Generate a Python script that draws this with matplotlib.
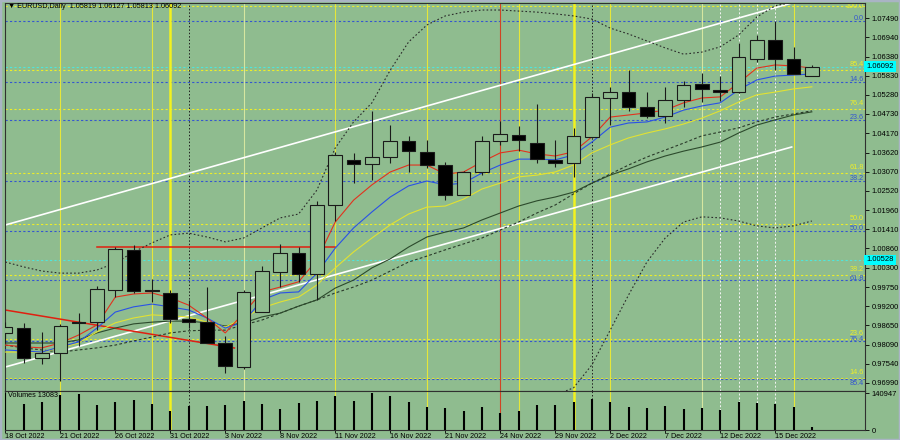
import numpy as np
import matplotlib.pyplot as plt
from matplotlib.patches import Rectangle
from matplotlib.transforms import blended_transform_factory

plt.rcParams['font.family'] = ['Liberation Sans', 'DejaVu Sans']

BG = '#8FBC8F'

# daily bars 18 Oct 2022 .. 19 Dec 2022 (last one still forming)
tick_labels = ['18 Oct 2022', '21 Oct 2022', '26 Oct 2022', '31 Oct 2022', '3 Nov 2022',
               '8 Nov 2022', '11 Nov 2022', '16 Nov 2022', '21 Nov 2022', '24 Nov 2022',
               '29 Nov 2022', '2 Dec 2022', '7 Dec 2022', '12 Dec 2022', '15 Dec 2022']

opens = [0.98428, 0.98571, 0.97708, 0.97844, 0.98744, 0.98735, 0.99665, 1.00816, 0.99660, 0.99587,
         0.98822, 0.98753, 0.98149, 0.97458, 0.99032, 1.00191, 1.00738, 1.00125, 1.02102, 1.03405,
         1.03281, 1.03500, 1.03960, 1.03649, 1.03252, 1.02412, 1.03051, 1.03966, 1.04130, 1.03885,
         1.03411, 1.03310, 1.04075, 1.05197, 1.05353, 1.04921, 1.04679, 1.05131, 1.05583, 1.05419,
         1.05353, 1.06311, 1.06857, 1.06302, 1.05819]
highs = [0.98744, 0.98715, 0.98456, 0.98687, 0.99003, 0.99780, 1.00910, 1.00959, 0.99973, 0.99665,
         0.99377, 0.99760, 0.98341, 0.99665, 1.00355, 1.00979, 1.00910, 1.02226, 1.03644, 1.03598,
         1.04823, 1.04412, 1.04095, 1.03980, 1.03356, 1.03097, 1.04095, 1.04527, 1.04383, 1.05007,
         1.03980, 1.04317, 1.05324, 1.05496, 1.05994, 1.05370, 1.05514, 1.05678, 1.05916, 1.05822,
         1.06762, 1.07001, 1.07413, 1.06664, 1.06127]
lows = [0.98140, 0.97564, 0.97536, 0.97047, 0.98054, 0.98514, 0.99455, 0.99570, 0.99328, 0.98724,
        0.98571, 0.98131, 0.97268, 0.97383, 0.99018, 0.99742, 0.99904, 0.99377, 1.01658, 1.02735,
        1.02829, 1.03327, 1.03068, 1.03166, 1.02254, 1.02398, 1.02973, 1.03836, 1.03664, 1.03318,
        1.03218, 1.02924, 1.04067, 1.04412, 1.04823, 1.04622, 1.04461, 1.04938, 1.05082, 1.05102,
        1.05344, 1.06233, 1.05994, 1.05865, 1.05813]
closes = [0.98600, 0.97708, 0.97844, 0.98620, 0.98715, 0.99685, 1.00836, 0.99636, 0.99640, 0.98830,
          0.98753, 0.98149, 0.97478, 0.99599, 1.00203, 1.00738, 1.00125, 1.02102, 1.03549, 1.03281,
          1.03483, 1.03960, 1.03664, 1.03261, 1.02412, 1.03051, 1.03966, 1.04144, 1.03980, 1.03425,
          1.03318, 1.04095, 1.05209, 1.05353, 1.04921, 1.04679, 1.05131, 1.05563, 1.05448, 1.05370,
          1.06360, 1.06857, 1.06311, 1.05879, 1.06092]
volumes = [140900, 100600, 105700, 133100, 137000, 94000, 105700, 113500, 100600, 71600,
           91200, 91200, 94000, 109600, 100600, 81000, 103000, 109600, 128000, 110800,
           140947, 128000, 106900, 87300, 85000, 74400, 86100, 66600, 74400, 96700,
           94000, 105700, 118600, 105700, 86100, 83400, 90000, 78300, 82200, 77100,
           106900, 103000, 100600, 86100, 13083]

# indicator lines
ma_red = [0.9808, 0.9803, 0.9800, 0.9814, 0.9837, 0.9866, 0.9946, 0.9955, 0.9958, 0.9944,
          0.9923, 0.9886, 0.9843, 0.9900, 0.9961, 0.9975, 0.9990, 1.0053, 1.0162, 1.0225,
          1.0269, 1.0306, 1.0326, 1.0326, 1.0300, 1.0306, 1.0335, 1.0361, 1.0369, 1.0358,
          1.0352, 1.0364, 1.0407, 1.0464, 1.0470, 1.0476, 1.0484, 1.0505, 1.0519, 1.0522,
          1.0562, 1.0605, 1.0614, 1.0611, 1.0605]
ma_blue = [0.9794, 0.9791, 0.9788, 0.9803, 0.9817, 0.9857, 0.9903, 0.9918, 0.9926, 0.9918,
           0.9909, 0.9886, 0.9857, 0.9874, 0.9938, 0.9958, 0.9961, 1.0015, 1.0087, 1.0145,
           1.0191, 1.0234, 1.0266, 1.0280, 1.0269, 1.0274, 1.0303, 1.0326, 1.0343, 1.0343,
           1.0341, 1.0355, 1.0392, 1.0435, 1.0447, 1.0450, 1.0464, 1.0484, 1.0496, 1.0505,
           1.0542, 1.0571, 1.0582, 1.0585, 1.0588]
ma_yellow = [0.9788, 0.9788, 0.9788, 0.9800, 0.9814, 0.9846, 0.9872, 0.9886, 0.9895, 0.9892,
             0.9889, 0.9874, 0.9860, 0.9886, 0.9915, 0.9932, 0.9946, 0.9981, 1.0030, 1.0076,
             1.0116, 1.0154, 1.0185, 1.0205, 1.0208, 1.0228, 1.0257, 1.0274, 1.0292, 1.0297,
             1.0306, 1.0326, 1.0361, 1.0384, 1.0404, 1.0418, 1.0430, 1.0444, 1.0461, 1.0482,
             1.0507, 1.0528, 1.0536, 1.0545, 1.0551]
ma_slow = [0.9814, 0.9814, 0.9814, 0.9814, 0.9823, 0.9843, 0.9857, 0.9869, 0.9874, 0.9877,
           0.9877, 0.9872, 0.9863, 0.9872, 0.9889, 0.9900, 0.9920, 0.9938, 0.9972, 0.9995,
           1.0030, 1.0056, 1.0090, 1.0119, 1.0133, 1.0145, 1.0168, 1.0188, 1.0208, 1.0223,
           1.0234, 1.0248, 1.0274, 1.0297, 1.0315, 1.0335, 1.0352, 1.0366, 1.0378, 1.0392,
           1.0418, 1.0441, 1.0456, 1.0470, 1.0479]
bb_mid = [0.9808, 0.9800, 0.9794, 0.9788, 0.9794, 0.9800, 0.9808, 0.9820, 0.9831, 0.9843,
          0.9849, 0.9851, 0.9851, 0.9866, 0.9880, 0.9900, 0.9920, 0.9938, 0.9958, 0.9975,
          0.9995, 1.0021, 1.0047, 1.0064, 1.0082, 1.0099, 1.0116, 1.0139, 1.0162, 1.0188,
          1.0211, 1.0243, 1.0274, 1.0300, 1.0326, 1.0349, 1.0369, 1.0389, 1.0410, 1.0421,
          1.0433, 1.0450, 1.0464, 1.0473, 1.0482]
bb_up = [1.0047, 1.0033, 1.0021, 1.0015, 1.0015, 1.0024, 1.0044, 1.0076, 1.0102, 1.0125,
         1.0130, 1.0119, 1.0105, 1.0116, 1.0145, 1.0174, 1.0185, 1.0254, 1.0375, 1.0450,
         1.0505, 1.0599, 1.0680, 1.0729, 1.0755, 1.0766, 1.0772, 1.0772, 1.0769, 1.0766,
         1.0761, 1.0755, 1.0746, 1.0720, 1.0703, 1.0683, 1.0663, 1.0645, 1.0651, 1.0666,
         1.0700, 1.0752, 1.0784, 1.0795, 1.0801]
bb_low = [np.nan] * 30 + [0.9664, 0.9685, 0.9751, 0.9851, 0.9952, 1.0047, 1.0116, 1.0162,
                          1.0177, 1.0174, 1.0165, 1.0151, 1.0145, 1.0151, 1.0165]

price_ticks = [1.07490, 1.06940, 1.06380, 1.05830, 1.05280, 1.04730, 1.04170, 1.03620, 1.03070,
               1.02520, 1.01960, 1.01410, 1.00860, 1.00300, 0.99750, 0.99200, 0.98650, 0.98090,
               0.97540, 0.96990]

fib_ratios = [0.0, 14.6, 23.6, 38.2, 50.0, 61.8, 76.4, 85.4, 100.0]
fib_yellow = (0.95292, 1.07835)   # price at 0 and at 100
fib_blue = (1.07418, 0.95335)

cyan_levels = [1.06092, 1.00528]
cyan_labels = ['1.06092', '1.00528']

# trend lines: (bar start, bar end), (price start, price end)
white_up = ((0, 43), (1.01535, 1.07936))
white_low = ((0, 42.9), (0.97449, 1.03779))
red_diag = ((0, 12.5), (0.99089, 0.97996))
red_flat = ((5, 18), (1.00902, 1.00902))

vline_bars = [3, 8, 9, 10, 13, 18, 23, 27, 28, 31, 32, 33, 38, 39, 40, 41, 42, 43]
vline_kind = ['y', 'y', 'Y', 'k', 'p', 'y', 'y', 'r', 'y', 'Y', 'k', 'y', 'p', 'w', 'w', 'w', 'w', 'y']

vstyle = {
    'y': dict(color='#E6E63A', lw=0.8, ls='-'),
    'Y': dict(color='#F2F21E', lw=1.8, ls='-'),
    'p': dict(color='#D6E6A0', lw=0.8, ls='-'),
    'k': dict(color='#202020', lw=0.7, ls=(0, (1.5, 2))),
    'r': dict(color='#D04424', lw=0.8, ls='-'),
    'w': dict(color='#F4F4F4', lw=0.7, ls=(0, (2, 2))),
}

n = len(closes)
idx = np.arange(n)
o = np.array(opens)
c = np.array(closes)

fig = plt.figure(figsize=(9, 4.4), dpi=100, facecolor=BG)
ax = fig.add_axes([5 / 900, 49 / 440, 860 / 900, 388 / 440], facecolor=BG)
axv = fig.add_axes([5 / 900, 10 / 440, 860 / 900, 39 / 440], facecolor=BG)

x_lo, x_hi = -0.016, 46.9
ax.set_xlim(x_lo, x_hi)
axv.set_xlim(x_lo, x_hi)
ax.set_ylim(0.96759, 1.07922)
axv.set_ylim(0, 148800)
y_lo, y_hi = ax.get_ylim()
px = (y_hi - y_lo) / 388   # price per pixel

# fibonacci levels
dots = (0, (2, 2))
YEL, BLU = '#EEEE28', '#3456D0'
yel_prices = [fib_yellow[0] + (fib_yellow[1] - fib_yellow[0]) * r / 100 for r in fib_ratios]
blu_prices = [fib_blue[0] + (fib_blue[1] - fib_blue[0]) * r / 100 for r in fib_ratios]
for r, py in zip(fib_ratios, yel_prices):
    if y_lo < py < y_hi:
        ax.axhline(py, color=YEL, lw=0.8, ls=dots, zorder=1)
        ty = min(py + 2 * px, y_hi - 6.5 * px)
        ax.text(x_hi - 0.08, ty, f'{r:.1f}', color=YEL, fontsize=5.2,
                ha='right', va='bottom', zorder=2)
for r, pb in zip(fib_ratios, blu_prices):
    if y_lo < pb < y_hi:
        ax.axhline(pb, color=BLU, lw=0.8, ls=dots, zorder=1)
        crowded = min(abs(pb - py) for py in yel_prices) < 2 * px
        if crowded:
            ax.text(x_hi - 0.08, pb - 1 * px, f'{r:.1f}', color=BLU, fontsize=5.2,
                    ha='right', va='top', zorder=2)
        else:
            ax.text(x_hi - 0.08, pb - 1.5 * px, f'{r:.1f}', color=BLU, fontsize=5.2,
                    ha='right', va='bottom', zorder=2)

for lv in cyan_levels:
    ax.axhline(lv, color='#4FE6DC', lw=0.8, ls=dots, zorder=1)

# vertical lines
for b, k in zip(vline_bars, vline_kind):
    ax.axvline(b, zorder=1.5, **vstyle[k])
    axv.axvline(b, zorder=1.5, **vstyle[k])

# trend lines
ax.plot(*white_up, color='white', lw=1.2, zorder=2)
ax.plot(*white_low, color='white', lw=1.2, zorder=2)
ax.plot(*red_diag, color='#E02010', lw=1.1, zorder=2)
ax.plot(*red_flat, color='#E02010', lw=1.1, zorder=2)

# indicators
ax.plot(idx, bb_up, color='#2A2A2A', lw=0.8, ls=(0, (1.5, 2)), zorder=3)
ax.plot(idx, bb_low, color='#2A2A2A', lw=0.8, ls=(0, (1.5, 2)), zorder=3)
ax.plot(idx, bb_mid, color='#2A3A2A', lw=0.8, ls=(0, (2.5, 2)), zorder=3)
ax.plot(idx, ma_slow, color='#2C4A2C', lw=0.8, zorder=3)
ax.plot(idx, ma_yellow, color='#E2E232', lw=0.8, zorder=3)
ax.plot(idx, ma_blue, color='#2A52E6', lw=0.8, zorder=3)
ax.plot(idx, ma_red, color='#E2321E', lw=0.8, zorder=3)

# candles
ax.vlines(idx, lows, highs, color='#1A1A1A', lw=0.8, zorder=5)
body_h = np.maximum(np.abs(c - o), 0.00004)
body_colors = np.where(c >= o, BG, 'black')
ax.bar(idx, body_h, bottom=np.minimum(o, c), width=0.74, color=body_colors,
       edgecolor='#1A1A1A', linewidth=0.8, zorder=6)

# volumes
axv.vlines(idx, 0, volumes, color='black', lw=1.5, zorder=5)

# axes styling
for a in (ax, axv):
    for s in a.spines.values():
        s.set_color('#303030')
        s.set_linewidth(0.8)
    a.yaxis.tick_right()

ax.set_xticks([])
ax.set_yticks(price_ticks)
ax.set_yticklabels([f'{p:.5f}' for p in price_ticks])
ax.tick_params(axis='y', length=3, width=0.6, pad=1.5, labelsize=5.5, colors='black')

axv.set_yticks([0, max(volumes)])
axv.set_yticklabels(['0', str(max(volumes))])
axv.tick_params(axis='y', length=3, width=0.6, pad=1.5, labelsize=5.5)
axv.set_xticks(idx[:len(tick_labels) * 3:3])
axv.set_xticklabels(tick_labels)
axv.tick_params(axis='x', length=2, width=0.6, pad=0.5, labelsize=5.2)
for lbl in axv.get_xticklabels():
    lbl.set_ha('left')

# texts
ax.text(0.003, 0.99, '\u25bc EURUSD,Daily  1.05819 1.06127 1.05813 1.06092',
        transform=ax.transAxes, fontsize=5.2, va='center', ha='left', zorder=10)
axv.text(0.004, 0.97, f'Volumes {volumes[-1]}', transform=axv.transAxes,
         fontsize=5.2, va='top', ha='left', zorder=10)

trans = blended_transform_factory(ax.transAxes, ax.transData)
for lv, txt in zip(cyan_levels, cyan_labels):
    ax.text(1.0015, lv, txt, transform=trans, ha='left', va='center', fontsize=5.5,
            bbox=dict(boxstyle='square,pad=0.25', fc='#00FFFF', ec='none'),
            clip_on=False, zorder=10)

fig.add_artist(Rectangle((0, 0), 1, 1, transform=fig.transFigure, fill=False,
                         ec='#A9B4C4', lw=2.5))

fig.savefig('out.png', dpi=100, facecolor=BG)
